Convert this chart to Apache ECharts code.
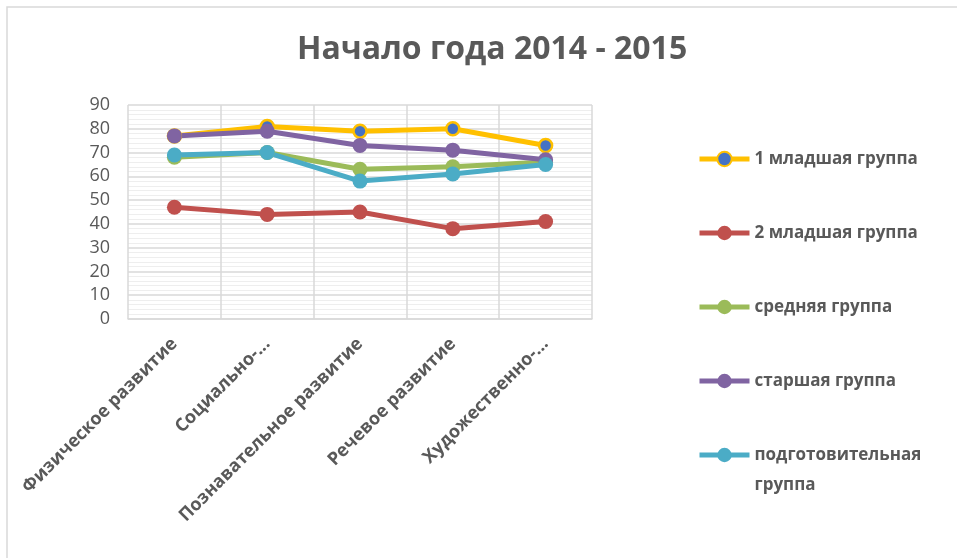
<!DOCTYPE html>
<html>
<head>
<meta charset="utf-8">
<script src="https://cdn.jsdelivr.net/npm/echarts@6/dist/echarts.min.js"></script>
<style>
  html, body { margin: 0; padding: 0; background: #fff; }
  #chart { width: 957px; height: 558px; }
</style>
</head>
<body>
<div id="chart"></div>
<script type="text/javascript">
  // данные с диаграммы
  var categories = ['Физическое развитие', 'Социально-...', 'Познавательное развитие', 'Речевое развитие', 'Художественно-...'];
  var yTicks = [0, 10, 20, 30, 40, 50, 60, 70, 80, 90];
  var names = ['1 младшая группа', '2 младшая группа', 'средняя группа', 'старшая группа', 'подготовительная группа'];
  var junior1 = [77, 81, 79, 80, 73];
  var junior2 = [47, 44, 45, 38, 41];
  var middle = [68, 70, 63, 64, 66];
  var senior = [77, 79, 73, 71, 67];
  var prep = [69, 70, 58, 61, 65];

  var textColor = '#595959';
  var font = '"Open Sans", "Noto Sans", sans-serif';

  function line(name, data, color, markerColor) {
    return {
      name: name,
      type: 'line',
      data: data,
      symbol: 'circle',
      symbolSize: markerColor ? 13 : 15,
      lineStyle: { width: 5, color: color },
      itemStyle: markerColor ? { color: markerColor, borderColor: color, borderWidth: 2.5 } : { color: color },
      emphasis: { disabled: true }
    };
  }

  var legendText = { fontFamily: font, fontSize: 17, fontWeight: 'bold', color: textColor, lineHeight: 30 };

  var myChart = echarts.init(document.getElementById('chart'));
  var option = {
    animation: false,
    title: {
      text: 'Начало года 2014 - 2015',
      left: 292,
      top: 29,
      textStyle: { fontFamily: font, fontSize: 32, fontWeight: 'bold', color: textColor }
    },
    legend: [
      {
        orient: 'vertical',
        left: 692,
        top: 139,
        itemWidth: 50,
        itemHeight: 18,
        itemGap: 44,
        lineStyle: { width: 5 },
        data: names.slice(0, 4),
        textStyle: legendText
      },
      {
        orient: 'vertical',
        left: 692,
        top: 405,
        itemWidth: 50,
        itemHeight: 18,
        lineStyle: { width: 5 },
        data: names.slice(4),
        formatter: function (n) { return '\n' + n.replace(' ', '\n'); },
        textStyle: legendText
      }
    ],
    grid: { left: 128, right: 365, top: 105, bottom: 239 },
    xAxis: {
      type: 'category',
      data: categories,
      boundaryGap: true,
      axisLine: { lineStyle: { color: '#d9d9d9', width: 1.5 } },
      axisTick: { show: false },
      splitLine: { show: true, lineStyle: { color: '#d9d9d9', width: 1.5 } },
      axisLabel: {
        rotate: 45,
        interval: 0,
        margin: 22,
        fontFamily: font,
        fontSize: 18,
        fontWeight: 'bold',
        color: textColor
      }
    },
    yAxis: {
      type: 'value',
      min: yTicks[0],
      max: yTicks[yTicks.length - 1],
      interval: 10,
      axisLine: { show: false },
      axisTick: { show: false },
      axisLabel: { margin: 18, fontFamily: font, fontSize: 18, color: textColor },
      splitLine: { lineStyle: { color: '#d9d9d9', width: 1.5 } },
      minorTick: { show: false, splitNumber: 5 },
      minorSplitLine: { show: true, lineStyle: { color: '#eeeeee', width: 1 } }
    },
    graphic: [
      {
        type: 'rect',
        shape: { x: 7, y: 7, width: 980, height: 600 },
        style: { fill: 'none', stroke: '#d9d9d9', lineWidth: 1.5 },
        silent: true
      }
    ],
    series: [
      line(names[0], junior1, '#FFC000', '#4472C4'),
      line(names[1], junior2, '#C0504D'),
      line(names[2], middle, '#9BBB59'),
      line(names[3], senior, '#8064A2'),
      line(names[4], prep, '#4BACC6')
    ]
  };
  myChart.setOption(option);
</script>
</body>
</html>
